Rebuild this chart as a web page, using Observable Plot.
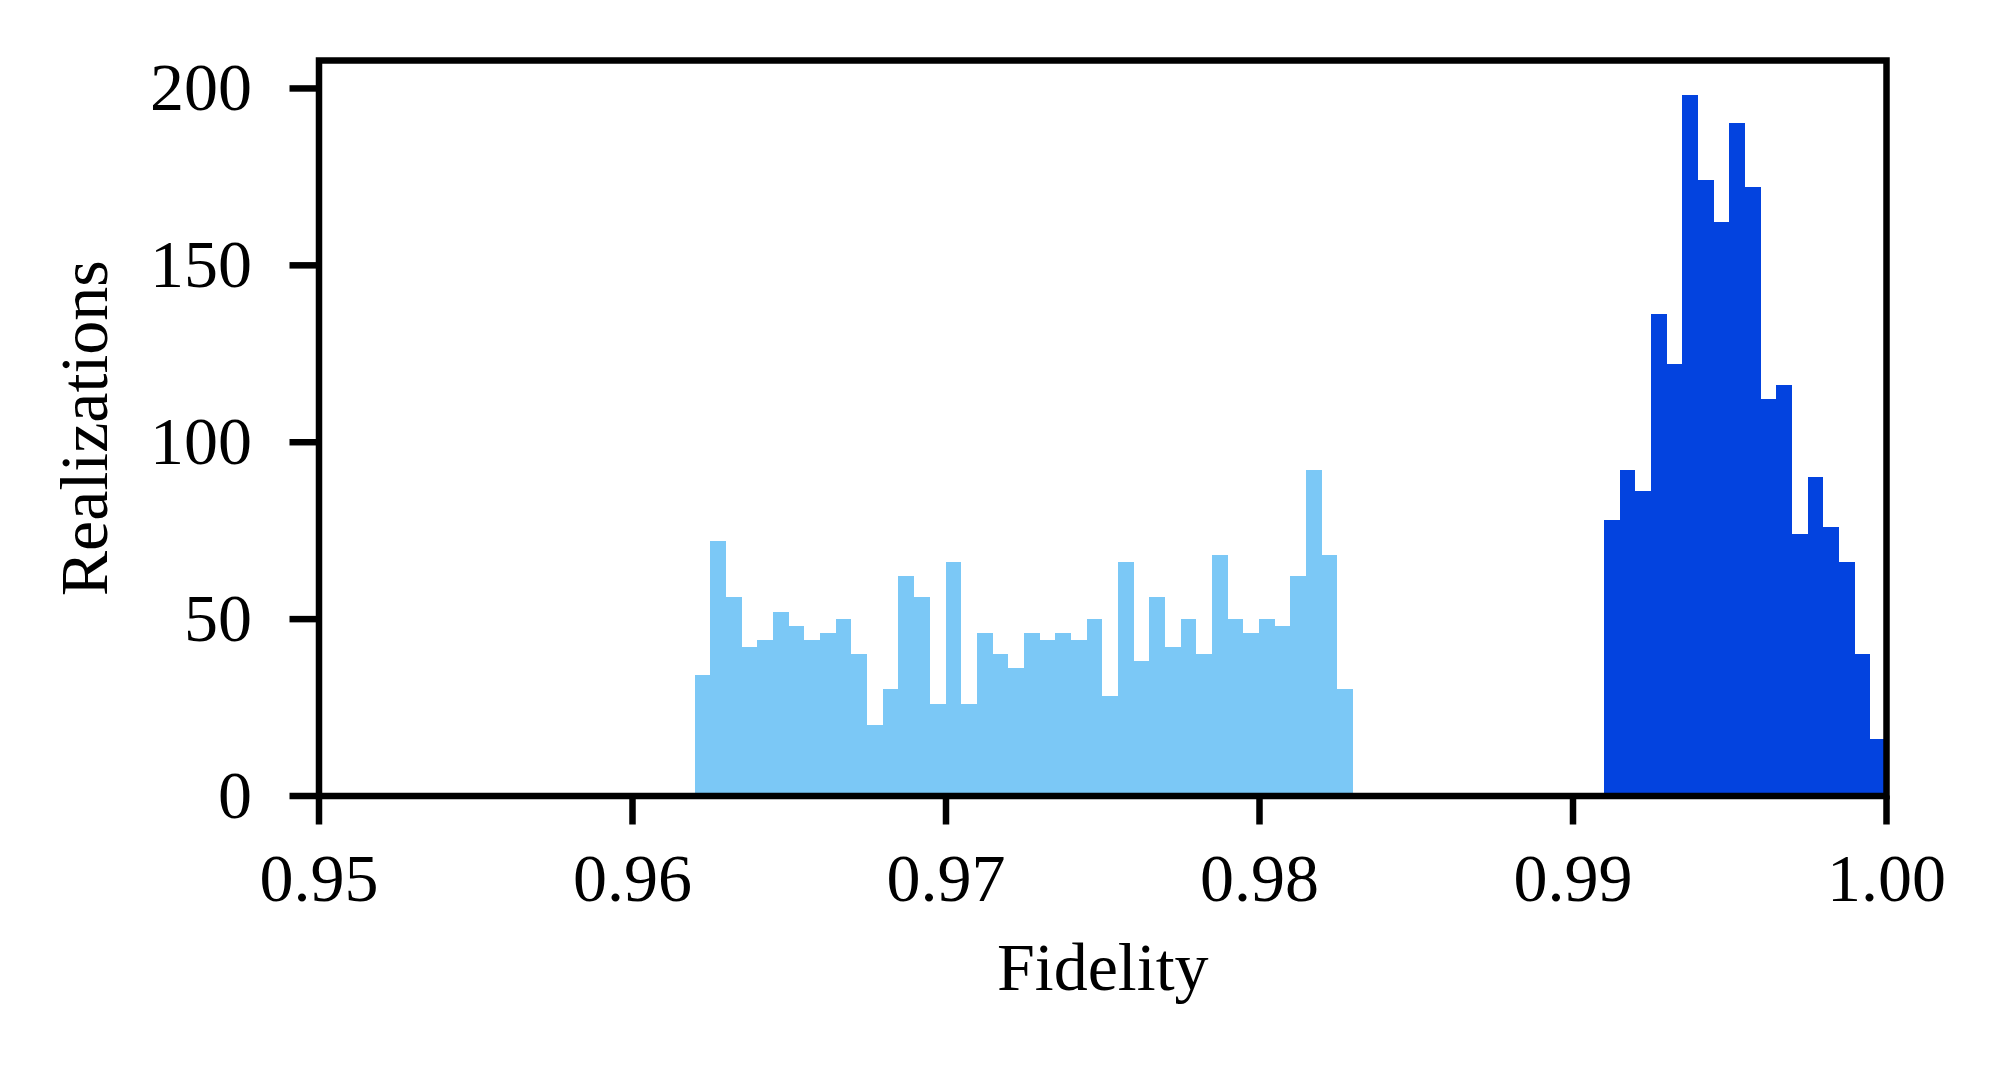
<!DOCTYPE html>
<html>
<head>
<meta charset="utf-8">
<script src="https://cdn.jsdelivr.net/npm/d3@7"></script>
<script src="https://cdn.jsdelivr.net/npm/@observablehq/plot@0.6"></script>
<style>
  html, body { margin: 0; padding: 0; background: #ffffff; }
  #chart { width: 2008px; height: 1065px; }
</style>
</head>
<body>
<div id="chart"></div>
<script>
// ---- data ----
const binWidth = 0.0005;
const lightStart = 0.962;   // first bin edge of the light-blue histogram
const darkStart = 0.991;    // first bin edge of the dark-blue histogram
const lightCounts = [34,72,56,42,44,52,48,44,46,50,40,20,30,62,56,26,66,26,46,40,36,46,44,46,44,50,28,66,38,56,42,50,40,68,50,46,50,48,62,92,68,30];
const darkCounts = [78,92,86,136,122,198,174,162,190,172,112,116,74,90,76,66,40,16];
const xTicks = [0.95, 0.96, 0.97, 0.98, 0.99, 1.00];
const yTicks = [0, 50, 100, 150, 200];
const xLabel = "Fidelity";
const yLabel = "Realizations";
const lightColor = "#7bc8f6";
const darkColor = "#0343df";

const toBins = (start, counts) => counts.map((c, i) => ({
  x1: start + i * binWidth,
  x2: start + (i + 1) * binWidth,
  count: c
}));
const lightBins = toBins(lightStart, lightCounts);
const darkBins = toBins(darkStart, darkCounts);

const font = "'Liberation Serif', 'Times New Roman', serif";
const fs = 68;

const chart = Plot.plot({
  width: 2008,
  height: 1065,
  marginLeft: 318.5,
  marginRight: 122,
  marginTop: 60,
  marginBottom: 269.5,
  style: {fontFamily: font, fontSize: fs + "px", color: "black", background: "white", overflow: "visible"},
  x: {domain: [0.95, 1.0]},
  y: {domain: [0, 207.9]},
  marks: [
    Plot.rectY(lightBins, {x1: "x1", x2: "x2", y: "count", fill: lightColor, shapeRendering: "crispEdges"}),
    Plot.rectY(darkBins, {x1: "x1", x2: "x2", y: "count", fill: darkColor, shapeRendering: "crispEdges"}),
    Plot.axisX({ticks: xTicks, tickFormat: d3.format(".2f"), tickSize: 29, tickPadding: 28, strokeWidth: 6.5, fontSize: fs, label: null}),
    Plot.axisY({ticks: yTicks, tickFormat: d3.format("d"), tickSize: 29, tickPadding: 38, strokeWidth: 6.5, fontSize: fs, label: null}),
    Plot.frame({stroke: "black", strokeWidth: 6.5}),
    Plot.text([xLabel], {text: d => d, frameAnchor: "bottom", lineAnchor: "middle", textAnchor: "middle", dy: 172.5, fontSize: fs, fill: "black"}),
    Plot.text([yLabel], {text: d => d, frameAnchor: "left", lineAnchor: "middle", textAnchor: "middle", rotate: -90, dx: -233.5, fontSize: fs, fill: "black"})
  ]
});
document.getElementById("chart").appendChild(chart);
</script>
</body>
</html>
